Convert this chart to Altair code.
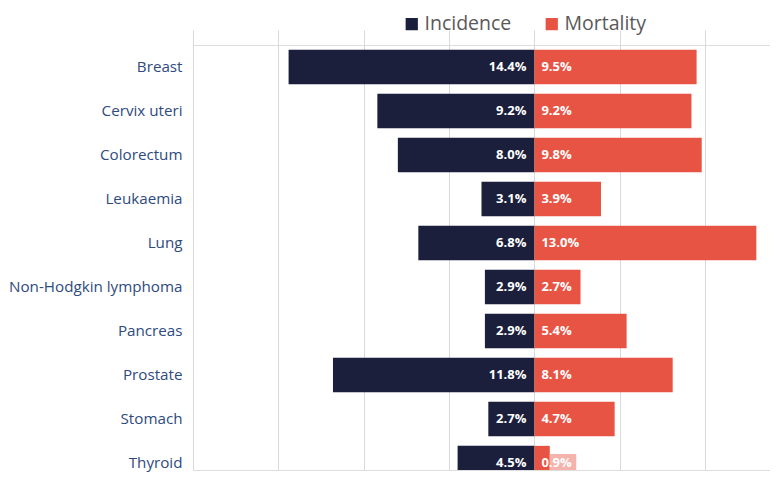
import altair as alt
import pandas as pd

categories = ["Breast", "Cervix uteri", "Colorectum", "Leukaemia", "Lung",
              "Non-Hodgkin lymphoma", "Pancreas", "Prostate", "Stomach", "Thyroid"]
incidence = [14.4, 9.2, 8.0, 3.1, 6.8, 2.9, 2.9, 11.8, 2.7, 4.5]
mortality = [9.5, 9.2, 9.8, 3.9, 13.0, 2.7, 5.4, 8.1, 4.7, 0.9]

rows = []
for c, v in zip(categories, incidence):
    rows.append({"cat": c, "measure": "Incidence", "value": v, "signed": -v,
                 "label": f"{v:.1f}%"})
for c, v in zip(categories, mortality):
    rows.append({"cat": c, "measure": "Mortality", "value": v, "signed": v,
                 "label": f"{v:.1f}%"})
df = pd.DataFrame(rows)

NAVY = "#1B1F3B"
RED = "#E85444"
FONT = "Open Sans"

y_scale = alt.Scale(paddingInner=0.22, paddingOuter=0.11, range=[0, 440])

y_enc = alt.Y("cat:N", sort=categories, title=None, scale=y_scale,
              axis=alt.Axis(labelFont=FONT, labelFontSize=15.2, labelColor="#2E4A7E",
                            labelPadding=11, ticks=False, domain=False, grid=False,
                            labelLimit=300))

x_scale = alt.Scale(domain=[-20, 13.8], nice=False, zero=False)

base = alt.Chart(df)

bars = base.mark_bar(clip=True).encode(
    x=alt.X("signed:Q", scale=x_scale, title=None,
            axis=alt.Axis(values=[-20, -15, -10, -5, 0, 5, 10], labels=False,
                          ticks=False, domain=False, grid=True,
                          gridColor="#D9D9D9", gridWidth=1)),
    x2=alt.datum(0),
    y=y_enc,
    color=alt.Color("measure:N",
                    scale=alt.Scale(domain=["Incidence", "Mortality"], range=[NAVY, RED]),
                    legend=alt.Legend(title=None, orient="none", legendX=209, legendY=-31,
                                      direction="horizontal", symbolType="square",
                                      symbolSize=150, symbolStrokeWidth=0,
                                      labelFont=FONT, labelFontSize=19.5,
                                      labelColor="#595959", columnPadding=30,
                                      labelOffset=3, padding=0)),
)

bg = base.transform_filter(
    "datum.measure == 'Mortality' && datum.value < 2"
).transform_calculate(
    x2v="datum.value + 1.55"
).mark_bar(color="#F4B3AC", size=18, clip=True).encode(
    x=alt.X("value:Q", scale=x_scale),
    x2="x2v:Q",
    y=alt.Y("cat:N", sort=categories),
)

inc_text = base.transform_filter("datum.measure == 'Incidence'").transform_calculate(
    zero="0"
).mark_text(
    align="right", dx=-8, font=FONT, fontSize=13, fontWeight="bold", color="white"
).encode(x=alt.X("zero:Q", scale=x_scale),
         y=alt.Y("cat:N", sort=categories), text="label:N")

mor_text = base.transform_filter("datum.measure == 'Mortality'").transform_calculate(
    zero="0"
).mark_text(
    align="left", dx=7, font=FONT, fontSize=13, fontWeight="bold", color="white"
).encode(x=alt.X("zero:Q", scale=x_scale),
         y=alt.Y("cat:N", sort=categories), text="label:N")

chart = alt.layer(bars, bg, inc_text, mor_text).properties(
    width=577, height=425,
    padding={"left": 0, "top": 6, "right": 0, "bottom": 0},
).configure_view(stroke=None).configure(background="white")

chart.save("out.html", embed_options={"renderer": "svg", "actions": False})
